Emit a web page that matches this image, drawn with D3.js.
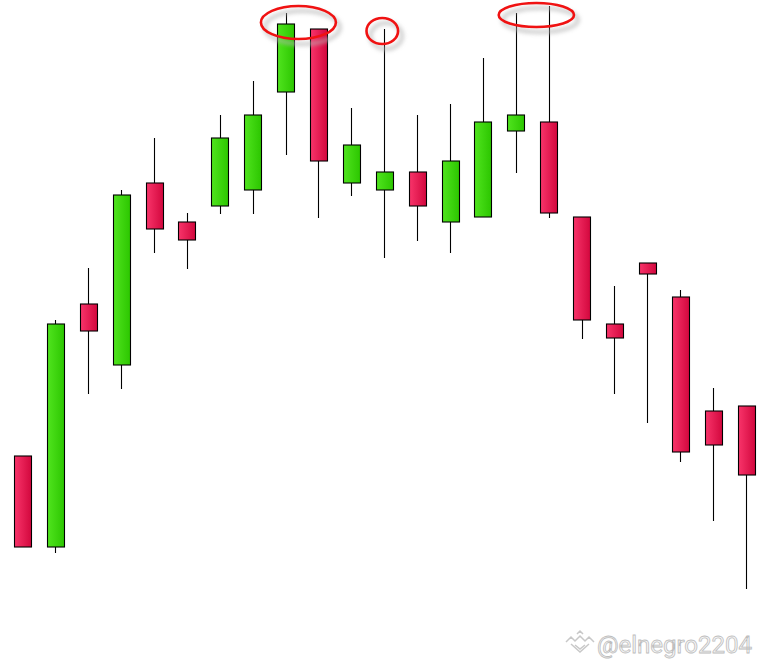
<!DOCTYPE html>
<html>
<head>
<meta charset="utf-8">
<script src="https://cdn.jsdelivr.net/npm/d3@7"></script>
<style>
  html, body { margin: 0; padding: 0; background: #fff; }
  svg { display: block; }
</style>
</head>
<body>
<svg id="chart" width="760" height="664"></svg>
<script>
// ---- data (price units; higher = up) ----
const opens  = [208, 117, 360, 299, 481, 442, 458, 474, 572, 635, 481, 474, 492, 442, 447, 533, 542, 447, 340, 401, 367, 253, 258];
const highs  = [208, 344, 396, 474, 526, 451, 549, 583, 651, 635, 556, 635, 549, 560, 606, 651, 658, 447, 378, 401, 374, 276, 258];
const lows   = [117, 111, 270, 275, 411, 395, 450, 450, 509, 446, 468, 406, 423, 411, 447, 491, 446, 325, 270, 241, 202, 143,  75];
const closes = [117, 340, 333, 469, 435, 424, 526, 549, 640, 503, 519, 492, 458, 503, 542, 549, 451, 344, 326, 390, 212, 219, 189];
// circled highs: [left (candle index), right (candle index), top price, bottom price]
const circles = [
  [7.25, 9.53, 658, 625],
  [10.46, 11.42, 646, 620],
  [14.48, 16.77, 661, 637]
];
const watermark = "@elnegro2204";

const candles = opens.map((o, i) => ({ i, o, h: highs[i], l: lows[i], c: closes[i] }));

const svg = d3.select("#chart");

const x = d3.scaleLinear().domain([0, candles.length - 1]).range([22.5, 746]);
const y = d3.scaleLinear().domain([0, 664]).range([664, 0]);
const bw = 17;

const defs = svg.append("defs");
const gGreen = defs.append("linearGradient").attr("id", "gGreen");
gGreen.append("stop").attr("offset", "0%").attr("stop-color", "#50e41e");
gGreen.append("stop").attr("offset", "100%").attr("stop-color", "#2cc600");
const gRed = defs.append("linearGradient").attr("id", "gRed");
gRed.append("stop").attr("offset", "0%").attr("stop-color", "#f8346a");
gRed.append("stop").attr("offset", "100%").attr("stop-color", "#d2073d");

const shadow = defs.append("filter").attr("id", "sh")
  .attr("x", "-30%").attr("y", "-50%").attr("width", "160%").attr("height", "200%");
shadow.append("feGaussianBlur").attr("stdDeviation", 2.2);

const g = svg.append("g");

// wicks
g.selectAll("line.wick").data(candles).join("line")
  .attr("class", "wick")
  .attr("x1", d => Math.round(x(d.i)) + 0.5)
  .attr("x2", d => Math.round(x(d.i)) + 0.5)
  .attr("y1", d => y(d.h))
  .attr("y2", d => y(d.l))
  .attr("stroke", "#000")
  .attr("stroke-width", 1.1);

// bodies
g.selectAll("rect.body").data(candles).join("rect")
  .attr("class", "body")
  .attr("x", d => Math.round(x(d.i) - bw / 2) + 0.5)
  .attr("width", bw)
  .attr("y", d => y(Math.max(d.o, d.c)))
  .attr("height", d => Math.max(1, Math.abs(y(d.o) - y(d.c))))
  .attr("fill", d => d.c >= d.o ? "url(#gGreen)" : "url(#gRed)")
  .attr("stroke", "#000")
  .attr("stroke-width", 1.1);

// circled highs
const ann = svg.append("g");
circles.forEach(([a, b, top, bot]) => {
  const cx = (x(a) + x(b)) / 2;
  const rx = (x(b) - x(a)) / 2;
  const cy = (y(top) + y(bot)) / 2;
  const ry = (y(bot) - y(top)) / 2;
  ann.append("ellipse")
    .attr("cx", cx + 4).attr("cy", cy + 5).attr("rx", rx).attr("ry", ry)
    .attr("fill", "none").attr("stroke", "#b5b5b5").attr("stroke-width", 3.5)
    .attr("opacity", 0.75)
    .attr("filter", "url(#sh)");
  ann.append("ellipse")
    .attr("cx", cx).attr("cy", cy).attr("rx", rx).attr("ry", ry)
    .attr("fill", "none").attr("stroke", "#f01212").attr("stroke-width", 2.6);
});

// watermark
const wm = svg.append("g").attr("transform", "translate(566,631)");
wm.append("path")
  .attr("d", "M0,11 L5,6 L9,10 L14,5 L19,10 L23,6 L28,11 M5,13 L14,21 L23,13 M9,14 L14,18 L19,14 M11,3 L14,0 L17,3")
  .attr("fill", "none").attr("stroke", "#c8c8c8").attr("stroke-width", 1.5)
  .attr("stroke-linejoin", "miter");
svg.append("text")
  .attr("x", 752).attr("y", 653)
  .attr("text-anchor", "end")
  .attr("font-family", "Roboto, 'Noto Sans', sans-serif")
  .attr("font-size", 24)
  .attr("fill", "#f7f7f7")
  .attr("stroke", "#bdbdbd")
  .attr("stroke-width", 0.8)
  .text(watermark);
</script>
</body>
</html>
